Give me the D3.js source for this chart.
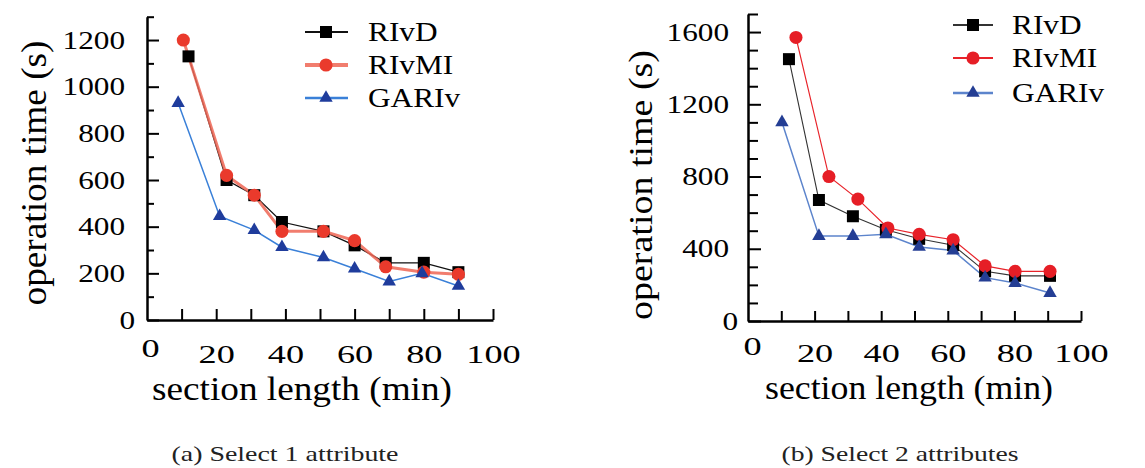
<!DOCTYPE html>
<meta charset="utf-8">
<script src="https://d3js.org/d3.v7.min.js"></script>
<style>
  body { margin: 0; background: #fff; }
  text { font-family: "Liberation Serif", "Times New Roman", serif; fill: #000; }
</style>
<div id="chart"></div>
<script>
// ---- data, panel (a): select 1 attribute ----
var aRivdX  = [12, 23, 31, 39, 51, 60, 69, 80, 90];
var aRivdY  = [1130, 600, 535, 420, 380, 320, 245, 245, 205];
var aRivmiX = [10.5, 23, 31, 39, 51, 60, 69, 80, 90];
var aRivmiY = [1200, 620, 535, 380, 380, 340, 228, 205, 196];
var aGarivX = [9, 21, 31, 39, 51, 60, 70, 79.5, 90];
var aGarivY = [930, 445, 385, 312, 268, 220, 165, 200, 146];

// ---- data, panel (b): select 2 attributes ----
var bRivdX  = [12.3, 21.3, 31.5, 41.4, 51.4, 61.6, 71.2, 80.2, 90.7];
var bRivdY  = [1450, 670, 580, 505, 455, 420, 275, 250, 250];
var bRivmiX = [14.4, 24.3, 33, 42, 51.4, 61.6, 71.2, 80.2, 90.7];
var bRivmiY = [1570, 800, 675, 515, 480, 450, 305, 275, 275];
var bGarivX = [10.2, 21.3, 31.5, 41.4, 51.4, 61.6, 71.2, 80.2, 90.7];
var bGarivY = [1100, 470, 470, 480, 410, 390, 240, 210, 155];

var seriesNames = ["RIvD", "RIvMI", "GARIv"];
var captions = ["(a) Select 1 attribute", "(b) Select 2 attributes"];

// ---- tick values ----
var xTickMarks = [10, 20, 30, 40, 50, 60, 70, 80, 90, 100];
var xTickLabels = [0, 20, 40, 60, 80, 100];
var aYMajor = [0, 200, 400, 600, 800, 1000, 1200];
var aYMinor = [100, 300, 500, 700, 900, 1100, 1300];
var bYMajor = [0, 400, 800, 1200, 1600];
var bYMinor = [100, 200, 300, 500, 600, 700, 900, 1000, 1100, 1300, 1400, 1500, 1700];

var serif = "'Liberation Serif', 'Times New Roman', serif";

var svg = d3.select("#chart").append("svg")
    .attr("width", 1145)
    .attr("height", 468)
    .attr("font-family", serif);

var symbols = [d3.symbolSquare, d3.symbolCircle, d3.symbolTriangle];
var symbolSizes = [144, 135, 78];

function drawPanel(p) {
  var x = d3.scaleLinear().domain([0, 100]).range(p.xr);
  var y = d3.scaleLinear().domain([0, p.yMax]).range(p.yr);
  var g = svg.append("g");

  // minor y ticks
  g.append("g")
      .attr("transform", "translate(" + x(0) + ",0)")
      .call(d3.axisLeft(y).tickValues(p.yMinor).tickSize(-p.minorLen).tickFormat(""))
      .call(function(a) { a.select(".domain").remove(); })
      .selectAll("line").attr("stroke-width", 2);

  // major y ticks + labels
  var yAxis = g.append("g")
      .attr("transform", "translate(" + x(0) + ",0)")
      .call(d3.axisLeft(y).tickValues(p.yMajor).tickSize(-p.majorLen).tickSizeOuter(0)
        .tickFormat(d3.format("d")))
      .attr("font-family", serif);
  yAxis.select(".domain").attr("stroke-width", 2.5);
  yAxis.selectAll("line").attr("stroke-width", 2);
  yAxis.selectAll(".tick text")
      .style("font-size", "25px")
      .attr("transform", "scale(1.25,1)")
      .attr("x", function(d) { return -(d === 0 ? p.zeroGap : p.yLabelGap) / 1.25; });

  // x tick marks
  var xAxis = g.append("g")
      .attr("transform", "translate(0," + y(0) + ")")
      .call(d3.axisBottom(x).tickValues(xTickMarks).tickSize(-p.xTickLen).tickSizeOuter(0).tickFormat(""));
  xAxis.select(".domain").attr("stroke-width", 2.5);
  xAxis.selectAll("line").attr("stroke-width", 2);

  // x tick labels
  g.append("g")
      .attr("transform", "translate(0," + y(0) + ")")
      .call(d3.axisBottom(x).tickValues(xTickLabels).tickSize(0).tickFormat(d3.format("d")))
      .attr("font-family", serif)
      .call(function(a) { a.select(".domain").remove(); })
      .selectAll(".tick text")
      .style("font-size", "25px")
      .attr("transform", "scale(1.45,1)")
      .attr("x", function(d) { return d === 0 ? p.xZeroShift / 1.45 : 0; })
      .attr("y", function(d) { return d === 0 ? p.xZeroPad : p.xLabelPad; });

  // axis titles
  g.append("text")
      .attr("transform", "translate(" + p.yTitle[0] + "," + p.yTitle[1] + ") rotate(-90)")
      .attr("text-anchor", "middle")
      .attr("textLength", p.yTitle[3])
      .attr("lengthAdjust", "spacingAndGlyphs")
      .style("font-size", p.yTitle[2] + "px")
      .text("operation time (s)");
  g.append("text")
      .attr("x", p.xTitle[0])
      .attr("y", p.xTitle[1])
      .attr("text-anchor", "middle")
      .attr("textLength", p.xTitle[3])
      .attr("lengthAdjust", "spacingAndGlyphs")
      .style("font-size", p.xTitle[2] + "px")
      .text("section length (min)");

  // series lines
  var line = d3.line().x(function(d) { return x(d[0]); }).y(function(d) { return y(d[1]); });
  p.series.forEach(function(s, i) {
    g.append("path")
        .datum(d3.zip(s.xs, s.ys))
        .attr("fill", "none")
        .attr("stroke", p.lineColors[i])
        .attr("stroke-width", p.lineWidths[i])
        .attr("stroke-opacity", p.lineOpacity[i])
        .attr("d", line);
  });

  // markers
  p.series.forEach(function(s, i) {
    g.selectAll(null)
        .data(d3.zip(s.xs, s.ys))
        .enter().append("path")
        .attr("transform", function(d) { return "translate(" + x(d[0]) + "," + y(d[1]) + ")"; })
        .attr("d", d3.symbol().type(symbols[i]).size(symbolSizes[i]))
        .attr("fill", p.markColors[i]);
  });

  // legend
  seriesNames.forEach(function(name, i) {
    var ry = p.legend.rows[i];
    g.append("line")
        .attr("x1", p.legend.lx1).attr("x2", p.legend.lx2)
        .attr("y1", ry).attr("y2", ry)
        .attr("stroke", p.lineColors[i])
        .attr("stroke-width", p.legendWidths[i])
        .attr("stroke-opacity", p.lineOpacity[i]);
    g.append("path")
        .attr("transform", "translate(" + p.legend.lm + "," + ry + ")")
        .attr("d", d3.symbol().type(symbols[i]).size(symbolSizes[i]))
        .attr("fill", p.markColors[i]);
    g.append("text")
        .attr("transform", "translate(" + p.legend.tx + "," + (ry + 9) + ") scale(1.16,1)")
        .style("font-size", "27px")
        .text(name);
  });

  // caption
  g.append("text")
      .attr("x", p.caption[0])
      .attr("y", p.caption[1])
      .attr("text-anchor", "middle")
      .attr("textLength", p.caption[2])
      .attr("lengthAdjust", "spacingAndGlyphs")
      .style("font-size", "22px")
      .style("fill", "#222")
      .text(p.captionText);
}

drawPanel({
  xr: [147, 493], yMax: 1300, yr: [320, 16.7],
  yMajor: aYMajor, yMinor: aYMinor,
  majorLen: 12, minorLen: 7, xTickLen: 11,
  yLabelGap: 22, zeroGap: 12, xLabelPad: 25, xZeroPad: 19, xZeroShift: 3,
  yTitle: [46, 173, 35, 265], xTitle: [302, 400, 34, 300],
  legend: {lx1: 305, lx2: 348, lm: 326, tx: 368, rows: [32, 65, 98]},
  caption: [285, 461, 227], captionText: captions[0],
  series: [{xs: aRivdX, ys: aRivdY}, {xs: aRivmiX, ys: aRivmiY}, {xs: aGarivX, ys: aGarivY}],
  lineColors: ["#111", "#ee6655", "#3a80d8"],
  lineWidths: [1.3, 3, 1.5],
  lineOpacity: [1, 0.85, 1],
  legendWidths: [2.2, 4, 2.5],
  markColors: ["#000", "#ea3a2c", "#1f3c9c"]
});

drawPanel({
  xr: [748, 1081], yMax: 1700, yr: [321, 14],
  yMajor: bYMajor, yMinor: bYMinor,
  majorLen: 13, minorLen: 10, xTickLen: 10,
  yLabelGap: 19, zeroGap: 10, xLabelPad: 23, xZeroPad: 16, xZeroShift: 4,
  yTitle: [652, 185, 33, 270], xTitle: [909, 399, 33, 288],
  legend: {lx1: 953, lx2: 993, lm: 973, tx: 1012, rows: [25, 58, 93]},
  caption: [900, 461, 237], captionText: captions[1],
  series: [{xs: bRivdX, ys: bRivdY}, {xs: bRivmiX, ys: bRivmiY}, {xs: bGarivX, ys: bGarivY}],
  lineColors: ["#333", "#e8232a", "#5c84cc"],
  lineWidths: [1.1, 1.2, 1.5],
  lineOpacity: [1, 1, 1],
  legendWidths: [2.2, 2.2, 2.5],
  markColors: ["#000", "#e61e26", "#243e94"]
});
</script>
